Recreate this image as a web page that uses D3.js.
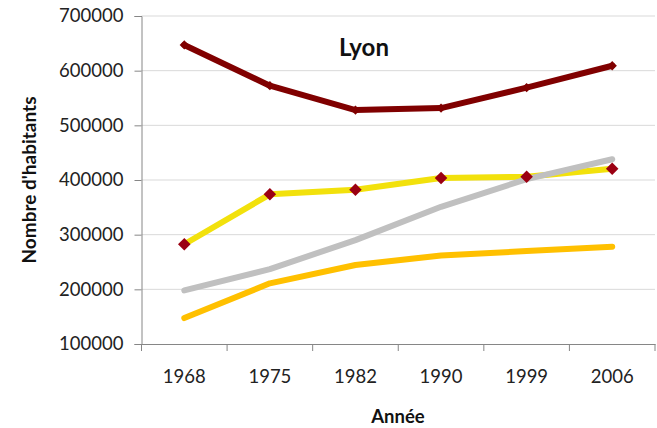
<!DOCTYPE html>
<html><head><meta charset="utf-8">
<script src="https://cdn.jsdelivr.net/npm/d3@7"></script>
<style>body{margin:0;background:#fff;} svg{display:block;font-family:Lato,"Open Sans",sans-serif;}</style>
</head><body>
<svg id="c" width="657" height="428"></svg>
<script>
const years = ["1968","1975","1982","1990","1999","2006"];
const lyon = [647000, 572500, 528000, 531500, 569000, 609000];
const yellowSeries = [282500, 373800, 382300, 403700, 406000, 420700];
const graySeries = [198000, 237000, 290000, 351000, 401500, 438000];
const orangeSeries = [147500, 211000, 244500, 262000, 270000, 278000];
const yTicks = [100000, 200000, 300000, 400000, 500000, 600000, 700000];

(function(){
const svg = d3.select("#c");
const pLeft = 141.5, pRight = 655, pTop = 16, pBottom = 344;
const x = d3.scaleBand().domain(years).range([pLeft, pRight]);
const y = d3.scaleLinear().domain([100000, 700000]).range([pBottom, pTop]);
const cx = d => x(d) + x.bandwidth()/2;

svg.append("g").selectAll("line").data(yTicks.filter(t => t > 100000)).join("line")
  .attr("x1", pLeft).attr("x2", pRight)
  .attr("y1", d => y(d)).attr("y2", d => y(d))
  .attr("stroke", "#d9d9d9").attr("stroke-width", 1);

const ya = svg.append("g").attr("transform", `translate(${pLeft},0)`)
  .call(d3.axisLeft(y).tickValues(yTicks).tickFormat(d3.format("d")).tickSizeOuter(0).tickSize(7).tickPadding(11));
ya.select(".domain").attr("stroke", "#868686");
ya.selectAll(".tick line").attr("stroke", "#868686");
ya.selectAll("text").attr("font-size", 18.5).attr("fill", "#222").attr("font-family", "Lato, sans-serif");

const xa = svg.append("g").attr("transform", `translate(0,${pBottom})`)
  .call(d3.axisBottom(x).tickSize(0).tickPadding(26));
xa.select(".domain").attr("stroke", "#868686");
xa.selectAll("text").attr("font-size", 18.5).attr("fill", "#222").attr("font-family", "Lato, sans-serif");
const bounds = years.map(d => x(d)).concat([pRight]);
svg.append("g").selectAll("line").data(bounds).join("line")
  .attr("x1", d => d).attr("x2", d => d).attr("y1", pBottom).attr("y2", pBottom + 7)
  .attr("stroke", "#868686");

const line = d3.line().x((d, i) => cx(years[i])).y(d => y(d));
function series(vals, color, w) {
  svg.append("path").datum(vals).attr("d", line).attr("fill", "none")
    .attr("stroke", color).attr("stroke-width", w).attr("stroke-linejoin", "round").attr("stroke-linecap", "round");
}
series(orangeSeries, "#ffc000", 6);
series(yellowSeries, "#f2e10c", 6);
series(graySeries, "#c0c0c0", 6);
series(lyon, "#800000", 6);

const diamond = d3.symbol().type(d3.symbolDiamond2);
svg.append("g").selectAll("path").data(yellowSeries).join("path")
  .attr("transform", (d, i) => `translate(${cx(years[i])},${y(d)})`)
  .attr("d", diamond.size(100)()).attr("fill", "#9b0012");
svg.append("g").selectAll("path").data(lyon).join("path")
  .attr("transform", (d, i) => `translate(${cx(years[i])},${y(d)})`)
  .attr("d", diamond.size(55)()).attr("fill", "#800000");

svg.append("text").attr("x", 364).attr("y", 56).attr("text-anchor", "middle")
  .attr("font-size", 24).attr("font-weight", "bold").attr("fill", "#111").text("Lyon");
svg.append("text").attr("x", 398).attr("y", 423).attr("text-anchor", "middle")
  .attr("font-size", 18.5).attr("font-weight", "bold").attr("fill", "#111").text("Année");
svg.append("text").attr("transform", "translate(36,180) rotate(-90)").attr("text-anchor", "middle")
  .attr("font-size", 19).attr("font-weight", "bold").attr("fill", "#111").text("Nombre d'habitants");
})();
</script>
</body></html>
